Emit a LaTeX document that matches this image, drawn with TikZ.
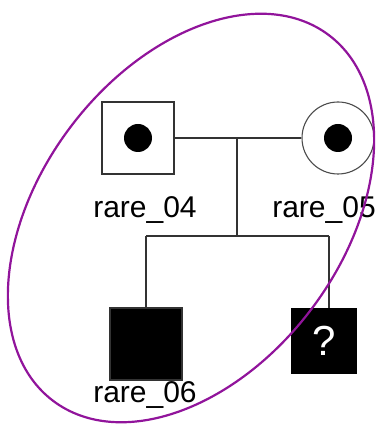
\documentclass[tikz,border=0pt]{standalone}
\usepackage{fontspec}
\setmainfont{Liberation Sans}
\usetikzlibrary{positioning}
\definecolor{ringcol}{RGB}{145,20,155}
\tikzset{
  male/.style={draw=black!80,line width=1.4pt,minimum size=72pt,inner sep=0pt},
  female/.style={circle,draw=black!70,line width=1.1pt,minimum size=72pt,inner sep=0pt},
  carrier/.style={circle,fill=black,minimum size=28pt,inner sep=0pt},
  affected/.style={fill=black,inner sep=0pt},
  tag/.style={font=\fontsize{30}{34}\selectfont,inner sep=0pt},
  link/.style={draw=black!80,line width=1.4pt}
}
\begin{document}
\begin{tikzpicture}[x=1pt,y=1pt]
\useasboundingbox (0,0) rectangle (379,426);
% parents
\node[male] (r04) at (138,288) {};
\node[carrier] at (r04.center) {};
\node[female] (r05) at (338,288) {};
\node[carrier] at (r05.center) {};
\node[tag] (l04) at (145,216) {rare\_04};
\node[tag] (l05) at (324,216) {rare\_05};
% children
\node[male,affected] (r06) at (146,82) {};
\node[affected,minimum size=66pt] (q) at (324,85) {\fontsize{42}{46}\selectfont\color{white}?};
\node[tag] (l06) at (145,31) {rare\_06};
% mating and sibship lines
\coordinate (m) at (237,288);
\coordinate (s) at (237,190);
\coordinate (s1) at (146,190);
\coordinate (s2) at (329,190);
\path[link] (r04.east) -- (r05.west);
\path[link] (m) -- (s);
\path[link] (s1) -- (s2);
\path[link] (s1) -- (r06.north);
\path[link] (s2) -- (s2 |- q.north);
% selection ring
\draw[ringcol,line width=2.2pt,rotate around={53:(191,208)}] (191,208) ellipse (229pt and 151pt);
\end{tikzpicture}
\end{document}
